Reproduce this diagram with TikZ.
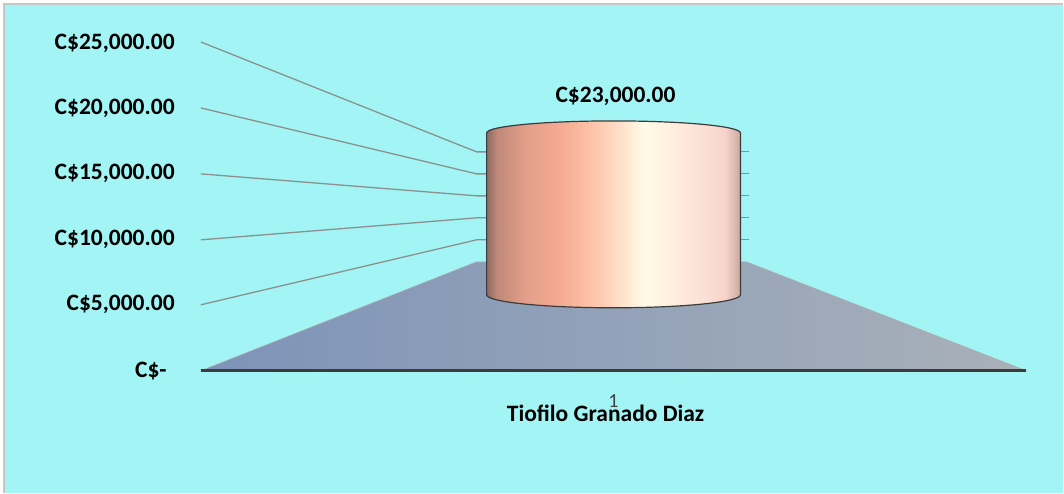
\documentclass[tikz,border=0pt]{standalone}
\usepackage{fontspec}
\setmainfont{Carlito}
\usepackage{tikz}

\definecolor{bgcyan}{HTML}{A3F4F4}
\definecolor{frame}{HTML}{C4C8C8}
\definecolor{gridgray}{HTML}{8C9090}
\definecolor{floorL}{HTML}{7D93B8}
\definecolor{floorR}{HTML}{A9B1B9}
\definecolor{rim}{HTML}{3C3C3C}

\pgfdeclarehorizontalshading{cylshade}{100bp}{%
  color(0bp)=(rgb,255:red,138;green,106;blue,98);
  color(25bp)=(rgb,255:red,138;green,106;blue,98);
  color(27bp)=(rgb,255:red,192;green,136;blue,120);
  color(33bp)=(rgb,255:red,228;green,160;blue,138);
  color(40bp)=(rgb,255:red,246;green,172;blue,146);
  color(47bp)=(rgb,255:red,255;green,200;blue,176);
  color(56bp)=(rgb,255:red,255;green,251;blue,230);
  color(65bp)=(rgb,255:red,255;green,230;blue,218);
  color(72bp)=(rgb,255:red,246;green,212;blue,204);
  color(75bp)=(rgb,255:red,200;green,168;blue,160);
  color(100bp)=(rgb,255:red,200;green,168;blue,160)}

\begin{document}
\begin{tikzpicture}
    [x=1pt, y=-1pt,
      ylab/.style={anchor=east, inner sep=0pt, font=\fontsize{23.5}{26}\selectfont\bfseries},
      grid/.style={draw=gridgray, line width=1.3pt},
      tick/.style={draw=gridgray, line width=1pt}]
    % background and frame
    \fill[white] (0,0) rectangle (1064,493);
    \fill[bgcyan] (4,4) rectangle (1064,493);
    \draw[frame, line width=1.6pt] (4,493) -- (4,4) -- (1064,4);
    \useasboundingbox (0,0) rectangle (1064,493);

    % value axis labels
    \node[ylab] (l25) at (175,43)  {C\$25,000.00};
    \node[ylab] (l20) at (175,108) {C\$20,000.00};
    \node[ylab] (l15) at (175,174) {C\$15,000.00};
    \node[ylab] (l10) at (175,240) {C\$10,000.00};
    \node[ylab] (l05) at (175,305) {C\$5,000.00};
    \node[ylab] (l00) at (167,371) {C\$-};

    % gridlines on the side wall and back wall
    \coordinate (g25) at (201,42);   \coordinate (w25) at (477,152); \coordinate (c25) at (487,152);
    \coordinate (g20) at (201,108);  \coordinate (w20) at (477,174); \coordinate (c20) at (487,174);
    \coordinate (g15) at (201,174);  \coordinate (w15) at (477,196); \coordinate (c15) at (487,196);
    \coordinate (g10) at (201,240);  \coordinate (w10) at (477,218); \coordinate (c10) at (487,218);
    \coordinate (g05) at (201,305);  \coordinate (w05) at (477,240); \coordinate (c05) at (487,240);
    \foreach \v in {25,20,15,10,05}
      \draw[grid] (g\v) -- (w\v) -- (c\v);
    \foreach \y in {152,174,196,218,240}
      \draw[tick] (741,\y) -- (750,\y);

    % floor
    \coordinate (fbl) at (201,371);
    \coordinate (fbr) at (1027,371);
    \coordinate (ftr) at (747,262);
    \coordinate (ftl) at (477,262);
    \shade[left color=floorL, right color=floorR, draw=gridgray!70, line width=0.6pt]
      (fbl) -- (ftl) -- (ftr) -- (fbr) -- cycle;
    \draw[rim, line width=3pt] (fbl) -- (fbr);

    % cylinder
    \shade[shading=cylshade, draw=rim, line width=1.2pt]
      (487,133) arc[start angle=180, end angle=360, x radius=127, y radius=12]
      -- (741,295) arc[start angle=0, end angle=180, x radius=127, y radius=13]
      -- cycle;

    \node[font=\fontsize{23.5}{26}\selectfont\bfseries] (val) at (616,96) {C\$23,000.00};
    \node[font=\fontsize{23.5}{26}\selectfont\bfseries] (cat) at (606,414) {Tiofilo Granado Diaz};
    \node[font=\fontsize{20}{22}\selectfont, text=black!75] (idx) at (614,401) {1};
\end{tikzpicture}
\end{document}
